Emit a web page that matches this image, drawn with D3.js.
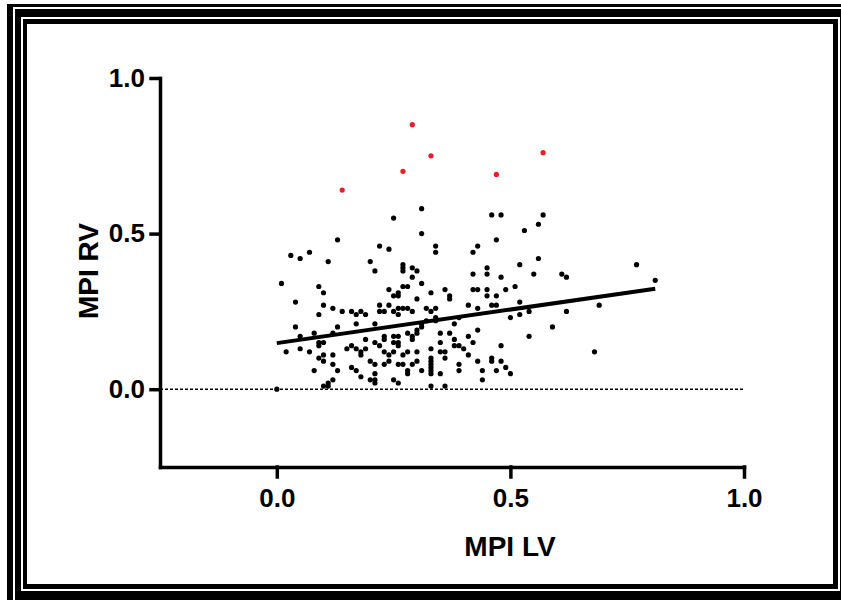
<!DOCTYPE html>
<html>
<head>
<meta charset="utf-8">
<script src="https://cdn.jsdelivr.net/npm/d3@7"></script>
<style>
    body { margin: 0; background: #fff; }
    svg text { font-family: Arial, "Liberation Sans", sans-serif; font-weight: bold; fill: #000; }
</style>
</head>
<body>
<div id="chart_svg"></div>
<script>
// MPI LV (x) vs MPI RV (y)
var pointsBlack = [
    [0.25, 0.55], [0.31, 0.58], [0.46, 0.56], [0.48, 0.56], [0.57, 0.56], [0.56, 0.53], [0.53, 0.51],
    [0.13, 0.48], [0.03, 0.43], [0.05, 0.42], [0.07, 0.44], [0.11, 0.41], [0.20, 0.41], [0.01, 0.34],
    [0.09, 0.33], [0.10, 0.31], [0.04, 0.28], [0.10, 0.27], [0.09, 0.24], [0.12, 0.26], [0.14, 0.25],
    [0.16, 0.25], [0.17, 0.24], [0.18, 0.25], [0.19, 0.24], [0.04, 0.20], [0.13, 0.20], [0.17, 0.21],
    [0.05, 0.17], [0.08, 0.18], [0.09, 0.15], [0.10, 0.15], [0.09, 0.14], [0.12, 0.18], [0.19, 0.16],
    [0.02, 0.12], [0.05, 0.13], [0.07, 0.12], [0.09, 0.10], [0.10, 0.11], [0.10, 0.09], [0.12, 0.11],
    [0.15, 0.13], [0.16, 0.14], [0.17, 0.13], [0.18, 0.12], [0.18, 0.11], [0.19, 0.13], [0.08, 0.06],
    [0.12, 0.08], [0.13, 0.06], [0.16, 0.07], [0.17, 0.06], [0.18, 0.04], [0.20, 0.03], [0.12, 0.03],
    [0.11, 0.02], [0.11, 0.01], [0.10, 0.01], [0.00, 0.00], [0.20, 0.09],
    [0.31, 0.50], [0.22, 0.46], [0.24, 0.45], [0.34, 0.46], [0.34, 0.44], [0.21, 0.38], [0.27, 0.40],
    [0.27, 0.39], [0.27, 0.38], [0.29, 0.39], [0.30, 0.38], [0.29, 0.36], [0.31, 0.34], [0.27, 0.33],
    [0.28, 0.33], [0.24, 0.32], [0.26, 0.31], [0.26, 0.30], [0.25, 0.30], [0.30, 0.29], [0.33, 0.31],
    [0.36, 0.32], [0.37, 0.30], [0.37, 0.29], [0.22, 0.27], [0.24, 0.27], [0.22, 0.25], [0.23, 0.25],
    [0.25, 0.25], [0.26, 0.26], [0.27, 0.26], [0.28, 0.26], [0.29, 0.25], [0.26, 0.24], [0.32, 0.26],
    [0.33, 0.25], [0.34, 0.26], [0.34, 0.23], [0.34, 0.22], [0.21, 0.21], [0.31, 0.20], [0.30, 0.19],
    [0.30, 0.18], [0.31, 0.21], [0.32, 0.22], [0.38, 0.21], [0.39, 0.23], [0.23, 0.17], [0.23, 0.16],
    [0.25, 0.17], [0.26, 0.17], [0.25, 0.15], [0.26, 0.15], [0.26, 0.14], [0.29, 0.17], [0.29, 0.16],
    [0.28, 0.18], [0.21, 0.15], [0.22, 0.14], [0.35, 0.18], [0.35, 0.15], [0.37, 0.18], [0.38, 0.16],
    [0.38, 0.14], [0.39, 0.14], [0.40, 0.13], [0.23, 0.12], [0.24, 0.11], [0.25, 0.12], [0.27, 0.11],
    [0.28, 0.12], [0.30, 0.12], [0.33, 0.13], [0.35, 0.12], [0.36, 0.12], [0.36, 0.10], [0.21, 0.08],
    [0.23, 0.08], [0.24, 0.09], [0.26, 0.08], [0.27, 0.08], [0.29, 0.08], [0.30, 0.09], [0.28, 0.06],
    [0.28, 0.05], [0.31, 0.06], [0.33, 0.10], [0.33, 0.09], [0.33, 0.08], [0.33, 0.07], [0.33, 0.06],
    [0.33, 0.05], [0.33, 0.01], [0.36, 0.01], [0.35, 0.05], [0.21, 0.05], [0.21, 0.03], [0.21, 0.02],
    [0.25, 0.03], [0.26, 0.02],
    [0.47, 0.48], [0.43, 0.46], [0.42, 0.44], [0.56, 0.42], [0.45, 0.39], [0.45, 0.37], [0.42, 0.37],
    [0.52, 0.40], [0.48, 0.36], [0.55, 0.37], [0.42, 0.32], [0.43, 0.32], [0.45, 0.32], [0.45, 0.30],
    [0.47, 0.30], [0.49, 0.32], [0.51, 0.33], [0.41, 0.27], [0.43, 0.26], [0.46, 0.27], [0.47, 0.27],
    [0.52, 0.28], [0.54, 0.25], [0.52, 0.24], [0.50, 0.23], [0.59, 0.20], [0.54, 0.17], [0.43, 0.19],
    [0.41, 0.17], [0.42, 0.15], [0.41, 0.11], [0.48, 0.14], [0.39, 0.08], [0.39, 0.06], [0.43, 0.09],
    [0.46, 0.10], [0.46, 0.09], [0.48, 0.09], [0.44, 0.06], [0.47, 0.06], [0.49, 0.07], [0.50, 0.05],
    [0.44, 0.03],
    [0.77, 0.40], [0.81, 0.35], [0.69, 0.27], [0.68, 0.12], [0.61, 0.37], [0.62, 0.36], [0.62, 0.25]
];

// highlighted (red) points
var pointsRed = [[0.14, 0.64], [0.27, 0.70], [0.29, 0.85], [0.33, 0.75], [0.47, 0.69], [0.57, 0.76]];

// linear fit
var fitIntercept = 0.148, fitSlope = 0.216;
var fitRange = [0.0, 0.81];

var xTicks = [0.0, 0.5, 1.0];
var yTicks = [0.0, 0.5, 1.0];
var xLabel = 'MPI LV', yLabel = 'MPI RV';

var width_chart = 841, height_chart = 600;

var svg = d3.select('#chart_svg')
    .append('svg')
    .attr('width', width_chart)
    .attr('height', height_chart);

// triple frame
var frame = [
    { x: 7, y: 4, w: 900, h: 700, fill: '#000' },
    { x: 13, y: 7, w: 900, h: 700, fill: '#fff' },
    { x: 15, y: 9, w: 900, h: 700, fill: '#000' },
    { x: 21, y: 17, w: 819, h: 574, fill: '#fff' },
    { x: 23, y: 19, w: 815, h: 570, fill: '#000' },
    { x: 27, y: 24, w: 806, h: 560, fill: '#fff' }
];
svg.selectAll('rect.frame')
    .data(frame).enter()
    .append('rect')
    .attr('class', 'frame')
    .attr('x', function (d) { return d.x; })
    .attr('y', function (d) { return d.y; })
    .attr('width', function (d) { return d.w; })
    .attr('height', function (d) { return d.h; })
    .attr('fill', function (d) { return d.fill; });

var x = d3.scaleLinear().domain([-0.25, 1.0]).range([160, 744]);
var y = d3.scaleLinear().domain([-0.25, 1.0]).range([467, 78]);

// dotted zero line
svg.append('line')
    .attr('x1', x(-0.25))
    .attr('x2', x(1.0))
    .attr('y1', y(0))
    .attr('y2', y(0))
    .attr('stroke', '#000')
    .attr('stroke-width', 1.5)
    .attr('stroke-dasharray', '3,2');

var xAxis = svg.append('g')
    .attr('transform', 'translate(0,' + y(-0.25) + ')')
    .call(d3.axisBottom(x)
        .tickValues(xTicks)
        .tickSize(10)
        .tickSizeOuter(0)
        .tickPadding(12)
        .tickFormat(d3.format('.1f')));

var yAxis = svg.append('g')
    .attr('transform', 'translate(' + x(-0.25) + ',0)')
    .call(d3.axisLeft(y)
        .tickValues(yTicks)
        .tickSize(9)
        .tickSizeOuter(0)
        .tickPadding(6)
        .tickFormat(d3.format('.1f')));

[xAxis, yAxis].forEach(function (g) {
    g.select('.domain')
        .attr('stroke-width', 3.5)
        .attr('stroke-linecap', 'square');
    g.selectAll('.tick line')
        .attr('stroke-width', 3.5)
        .attr('stroke-linecap', 'square');
    g.selectAll('.tick text')
        .attr('font-size', 26)
        .attr('font-family', 'Arial, "Liberation Sans", sans-serif')
        .attr('font-weight', 'bold')
        .attr('fill', '#000');
});

svg.append('text')
    .attr('x', 510)
    .attr('y', 556)
    .attr('text-anchor', 'middle')
    .attr('font-size', 28)
    .text(xLabel);

svg.append('text')
    .attr('transform', 'translate(98,271) rotate(-90)')
    .attr('text-anchor', 'middle')
    .attr('font-size', 28)
    .text(yLabel);

// regression line
svg.append('line')
    .attr('x1', x(fitRange[0]))
    .attr('y1', y(fitIntercept + fitSlope * fitRange[0]))
    .attr('x2', x(fitRange[1]))
    .attr('y2', y(fitIntercept + fitSlope * fitRange[1]))
    .attr('stroke', '#000')
    .attr('stroke-width', 4);

svg.selectAll('circle.black')
    .data(pointsBlack).enter()
    .append('circle')
    .attr('class', 'black')
    .attr('cx', function (d) { return x(d[0]); })
    .attr('cy', function (d) { return y(d[1]); })
    .attr('r', 2.6)
    .attr('fill', '#000');

svg.selectAll('circle.red')
    .data(pointsRed).enter()
    .append('circle')
    .attr('class', 'red')
    .attr('cx', function (d) { return x(d[0]); })
    .attr('cy', function (d) { return y(d[1]); })
    .attr('r', 2.6)
    .attr('fill', '#ec1c24');
</script>
</body>
</html>
